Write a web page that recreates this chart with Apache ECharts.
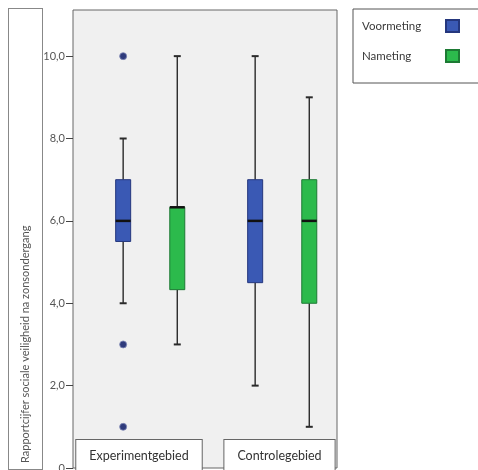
<!DOCTYPE html>
<html>
<head>
<meta charset="utf-8">
<script src="https://cdn.jsdelivr.net/npm/echarts@6/dist/echarts.min.js"></script>
<style>
  html, body { margin: 0; padding: 0; background: #fff; }
  #chart { width: 478px; height: 470px; }
</style>
</head>
<body>
<div id="chart"></div>
<script>
// groups on the x axis
const categories = ["Experimentgebied", "Controlegebied"];
// [min whisker, Q1, median, Q3, max whisker] per group
const voormeting = [[4, 5.5, 6, 7, 8], [2, 4.5, 6, 7, 10]];
const nameting = [[3, 4.33, 6.33, 6.33, 10], [1, 4, 6, 7, 9]];
// outliers: [group index, value]
const voormetingOutliers = [[0, 10], [0, 3], [0, 1]];
const yTicks = [0, 2, 4, 6, 8, 10];

const font = "Lato";
const blue = "#3a59b4", blueEdge = "#25377d";
const green = "#2cba4c", greenEdge = "#1d7a34";
// box offset from the band centre, as share of the band
const offsets = [-0.12, 0.29];

const toItems = rows => rows.map((r, i) => [i, ...r]);

function renderBox(params, api) {
  const band = api.size([1, 0])[0];
  const x = api.coord([api.value(0), 0])[0] + offsets[params.seriesIndex] * band;
  const y = k => api.coord([0, api.value(k)])[1];
  const [lo, q1, med, q3, hi] = [y(1), y(2), y(3), y(4), y(5)];
  const hw = 7.5, cap = 3.5;
  const color = api.visual("color");
  const edge = params.seriesIndex === 0 ? blueEdge : greenEdge;
  const line = (x1, y1, x2, y2, w, c) => ({
    type: "line", shape: { x1, y1, x2, y2 }, style: { stroke: c, lineWidth: w }
  });
  return {
    type: "group",
    children: [
      line(x, lo, x, q1, 1.4, "#2a2a2a"),
      line(x, q3, x, hi, 1.4, "#2a2a2a"),
      line(x - cap, lo, x + cap, lo, 2, "#2a2a2a"),
      line(x - cap, hi, x + cap, hi, 2, "#2a2a2a"),
      { type: "rect", shape: { x: x - hw, y: q3, width: hw * 2, height: q1 - q3 },
        style: { fill: color, stroke: edge, lineWidth: 1 } },
      line(x - hw, med, x + hw, med, 2.5, "#111")
    ]
  };
}

function renderOutlier(params, api) {
  const band = api.size([1, 0])[0];
  const p = api.coord([api.value(0), api.value(1)]);
  return {
    type: "circle",
    shape: { cx: p[0] + offsets[0] * band, cy: p[1], r: 3.5 },
    style: { fill: "#2f3b7c", stroke: "#7d86b5", lineWidth: 0.8 }
  };
}

const chart = echarts.init(document.getElementById("chart"));
chart.setOption({
  animation: false,
  backgroundColor: "#fff",
  textStyle: { fontFamily: font },
  legend: {
    left: 353, top: 9,
    orient: "vertical", align: "right",
    data: ["Voormeting", "Nameting"],
    backgroundColor: "#fff", borderColor: "#555", borderWidth: 1,
    padding: [10, 20, 20, 9],
    itemGap: 16, itemWidth: 13, itemHeight: 12, icon: "rect",
    selectedMode: false,
    formatter: name => "{n|" + name + "}",
    textStyle: {
      fontFamily: font, fontSize: 11.5, color: "#3a3a3a",
      rich: { n: { width: 79, align: "left", fontFamily: font, fontSize: 11.5, color: "#3a3a3a" } }
    }
  },
  grid: {
    left: 73, right: 141, top: 10, bottom: 2,
    outerBoundsMode: "none",
    show: true, backgroundColor: "#f0f0f0", borderColor: "#666", borderWidth: 1
  },
  xAxis: {
    type: "category",
    data: categories,
    axisLine: { show: false },
    axisTick: { show: false },
    axisLabel: {
      inside: true, margin: 4, interval: 0,
      formatter: (v, i) => (i === 0 ? "" : "{s|}") + "{a|" + v + "}",
      rich: {
        s: { width: 17 },
        a: {
          fontFamily: font, fontSize: 12.5, color: "#333", lineHeight: 14,
          backgroundColor: "#fff", borderColor: "#666", borderWidth: 1,
          padding: [9, 13, 12, 13]
        }
      }
    }
  },
  yAxis: {
    type: "value",
    min: 0, max: 11.12, interval: 2,
    name: "{t|Rapportcijfer sociale veiligheid na zonsondergang}",
    nameLocation: "middle", nameRotate: 90, nameGap: 41,
    nameMoveOverlap: false,
    nameTextStyle: {
      rich: {
        t: {
          align: "left", width: 448,
          fontFamily: font, fontSize: 11, color: "#555", lineHeight: 13,
          backgroundColor: "#fff", borderColor: "#888", borderWidth: 1,
          padding: [11, 6, 11, 6]
        }
      }
    },
    axisLine: { show: false },
    axisTick: { show: true, length: 7, customValues: yTicks, lineStyle: { color: "#444" } },
    splitLine: { show: false },
    axisLabel: {
      margin: 8, fontFamily: font, fontSize: 11, color: "#555",
      customValues: yTicks,
      formatter: v => (v === 0 ? "0" : v.toFixed(1).replace(".", ","))
    }
  },
  series: [
    {
      name: "Voormeting", type: "custom", renderItem: renderBox,
      itemStyle: { color: blue, borderColor: blueEdge, borderWidth: 1 },
      encode: { x: 0, y: [1, 2, 3, 4, 5] },
      data: toItems(voormeting)
    },
    {
      name: "Nameting", type: "custom", renderItem: renderBox,
      itemStyle: { color: green, borderColor: greenEdge, borderWidth: 1 },
      encode: { x: 0, y: [1, 2, 3, 4, 5] },
      data: toItems(nameting)
    },
    {
      name: "Voormeting", type: "custom", renderItem: renderOutlier,
      itemStyle: { color: blue },
      encode: { x: 0, y: 1 },
      data: voormetingOutliers
    }
  ]
});
</script>
</body>
</html>
